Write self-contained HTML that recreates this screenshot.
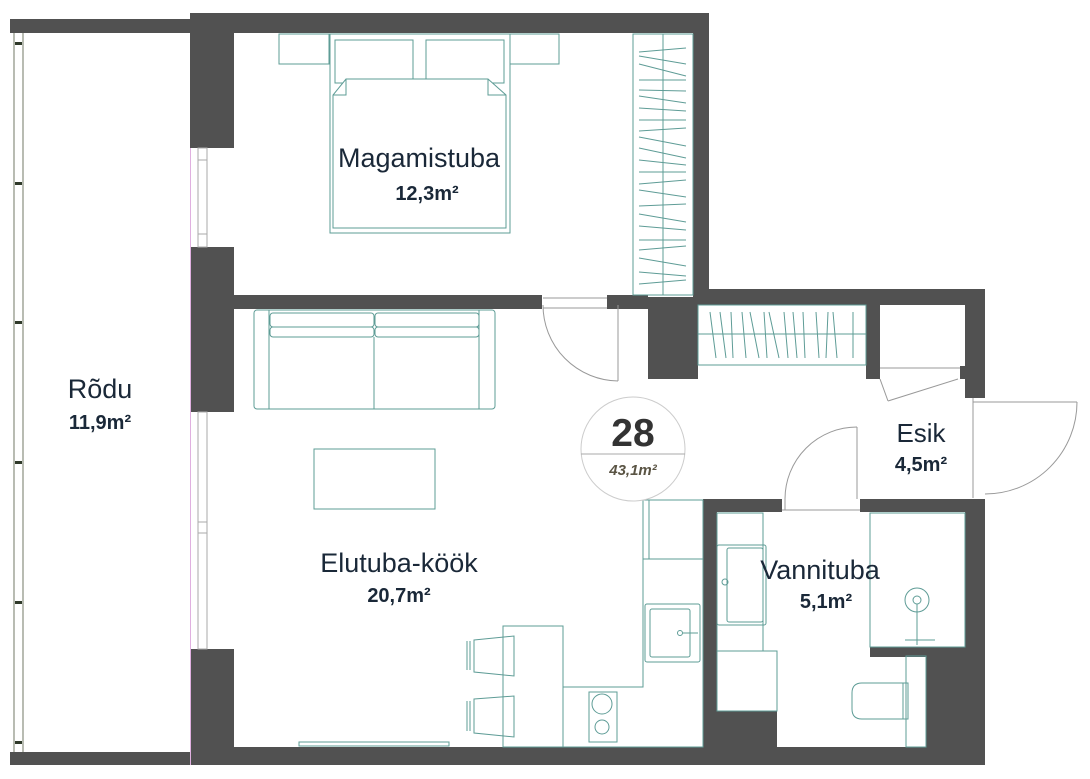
<!DOCTYPE html>
<html><head><meta charset="utf-8"><style>
html,body{margin:0;padding:0;background:#fff}
svg{display:block}
.t{font-family:"Liberation Sans","DejaVu Sans",sans-serif;fill:#1a2838}
</style></head><body>
<svg width="1090" height="779" viewBox="0 0 1090 779" xmlns="http://www.w3.org/2000/svg">
<g fill="#515151">
<rect x="10" y="19" width="180" height="14"/>
<rect x="10" y="752" width="180" height="13"/>
<rect x="190" y="13" width="44" height="135"/>
<rect x="190" y="247" width="44" height="165"/>
<rect x="190" y="649" width="44" height="116"/>
<rect x="190" y="13" width="519" height="20"/>
<rect x="693" y="13" width="16" height="292"/>
<rect x="234" y="295" width="308" height="14"/>
<rect x="607" y="295" width="41" height="14"/>
<rect x="648" y="297" width="50" height="82"/>
<rect x="693" y="289" width="292" height="16"/>
<rect x="965" y="289" width="20" height="109"/>
<rect x="866" y="305" width="14" height="74"/>
<rect x="960" y="366" width="5" height="13"/>
<rect x="703" y="499" width="79" height="13"/>
<rect x="860" y="499" width="125" height="13"/>
<rect x="703" y="499" width="14" height="266"/>
<rect x="965" y="499" width="20" height="266"/>
<rect x="717" y="711" width="60" height="36"/>
<rect x="870" y="647" width="95" height="10"/>
<rect x="926" y="657" width="40" height="90"/>
<rect x="190" y="747" width="795" height="18"/>
</g>
<g stroke="#8a8f80" stroke-width="1.2">
<line x1="14" y1="33" x2="14" y2="752"/><line x1="23" y1="33" x2="23" y2="752"/>
</g>
<g fill="#2f3a2a"><rect x="15" y="42" width="7" height="3"/><rect x="15" y="182" width="7" height="3"/><rect x="15" y="321" width="7" height="3"/><rect x="15" y="461" width="7" height="3"/><rect x="15" y="601" width="7" height="3"/><rect x="15" y="741" width="7" height="3"/></g>
<g stroke="#aaa" stroke-width="1" fill="none">
<rect x="198" y="148" width="9" height="99"/><line x1="198" y1="160" x2="207" y2="160"/><line x1="198" y1="234" x2="207" y2="234"/>
<rect x="198" y="412" width="9" height="237"/><line x1="198" y1="522" x2="207" y2="522"/><line x1="198" y1="533" x2="207" y2="533"/>
</g>
<line x1="190.5" y1="148" x2="190.5" y2="765" stroke="#e0b0e0" stroke-width="1"/>
<g stroke="#999" stroke-width="1" fill="none">
<path d="M543 305 A76 76 0 0 0 618 381"/><line x1="618" y1="305" x2="618" y2="381"/><line x1="543" y1="298" x2="607" y2="298"/><line x1="543" y1="308" x2="607" y2="308"/>
<path d="M857 427 A72 72 0 0 0 785 499"/><line x1="857" y1="427" x2="857" y2="499"/><line x1="782" y1="510" x2="860" y2="510"/><line x1="785" y1="499" x2="785" y2="510"/>
<path d="M1077 402 A92 92 0 0 1 985 494"/><line x1="973" y1="402" x2="1077" y2="402"/><line x1="973" y1="398" x2="973" y2="498"/>
<line x1="880" y1="368" x2="960" y2="368"/><line x1="880" y1="379" x2="888" y2="401"/><line x1="888" y1="401" x2="958" y2="379"/>
</g>
<g stroke="#5e9c96" stroke-width="1" fill="none">
<rect x="279" y="34" width="50" height="30"/><rect x="510" y="34" width="49" height="30"/>
<rect x="330" y="34" width="180" height="199"/>
<rect x="335" y="40" width="78" height="43"/><rect x="426" y="40" width="78" height="43"/>
<path d="M333 228 V95 L346 79 H488 L506 95 V228 Z" fill="#fff"/>
<path d="M333 95 H346 V79 M506 95 H488 V79"/>
<rect x="633" y="34" width="60" height="261"/><line x1="663" y1="34" x2="663" y2="295"/>
<path d="M639 52 L686 48 M639 56 L686 64 M639 64 L686 76 M639 80 L686 80 M639 90 L686 91 M639 96 L686 103 M639 108 L686 111 M639 120 L686 120 M639 131 L686 128 M639 137 L686 146 M639 148 L686 158 M639 160 L686 165 M639 172 L686 172 M639 184 L686 180 M639 190 L686 197 M639 206 L686 204 M639 214 L686 222 M639 226 L686 230 M639 240 L686 240 M639 250 L686 246 M639 258 L686 266 M639 272 L686 276 M639 284 L686 280"/>
<rect x="698" y="305" width="168" height="60"/><line x1="698" y1="334" x2="866" y2="334"/>
<path d="M710 312 L716 358 M720 312 L726 358 M731 312 L733 358 M742 312 L746 358 M750 312 L759 358 M764 312 L767 358 M769 312 L779 358 M784 312 L788 358 M793 312 L797 358 M803 312 L805 358 M816 312 L819 358 M828 312 L826 358 M833 312 L837 358 M853 312 L853 358"/>
<rect x="254" y="310" width="241" height="99" rx="3"/>
<line x1="269" y1="310" x2="269" y2="409"/><line x1="479" y1="310" x2="479" y2="409"/>
<rect x="270" y="313" width="104" height="14" rx="3"/><rect x="375" y="313" width="104" height="14" rx="3"/>
<rect x="270" y="327" width="104" height="10" rx="3"/><rect x="375" y="327" width="104" height="10" rx="3"/>
<line x1="374" y1="337" x2="374" y2="409"/>
<rect x="314" y="449" width="121" height="60"/>
<rect x="299" y="742" width="150" height="4"/>
<path d="M643 500 H703 V747 H563 V687 H643 Z"/><line x1="649" y1="500" x2="649" y2="559"/><line x1="643" y1="559" x2="703" y2="559"/>
<rect x="645" y="604" width="55" height="58" rx="2"/><rect x="650" y="609" width="40" height="48" rx="2"/>
<circle cx="680" cy="633" r="2.5"/><line x1="683" y1="633" x2="698" y2="633"/>
<rect x="589" y="692" width="28" height="50"/><circle cx="602" cy="704" r="10"/><circle cx="602" cy="727" r="7"/>
<rect x="503" y="626" width="60" height="121"/>
<path d="M474 640 L514 636 L514 676 L474 672 Z M474 699 L514 696 L514 737 L474 733 Z"/>
<path d="M467 641 V670 M470 641 V670 M467 701 V731 M470 701 V731"/>
<rect x="717" y="513" width="46" height="138"/>
<rect x="717" y="545" width="49" height="80" rx="2"/><rect x="727" y="548" width="36" height="74" rx="2"/>
<circle cx="725" cy="582" r="3"/>
<rect x="717" y="651" width="60" height="60"/>
<rect x="870" y="513" width="95" height="134"/>
<circle cx="917" cy="600" r="12"/><circle cx="917" cy="600" r="4"/><line x1="917" y1="604" x2="917" y2="645"/>
<line x1="905" y1="640" x2="935" y2="640"/>
<rect x="906" y="656" width="20" height="91"/><rect x="903" y="683" width="5" height="36"/>
<path d="M903 683 H862 Q852 683 852 693 V709 Q852 719 862 719 H903"/>
</g>
<circle cx="633" cy="449" r="52" fill="#fff" stroke="#ccc" stroke-width="1"/>
<line x1="581" y1="454" x2="685" y2="454" stroke="#aaa" stroke-width="1"/>
<text x="633" y="446" text-anchor="middle" class="t" style="font-size:39px;font-weight:bold;fill:#333">28</text>
<text x="633" y="475" text-anchor="middle" class="t" style="font-size:15px;font-weight:bold;font-style:italic;fill:#5a5444">43,1m²</text>
<g class="t" text-anchor="middle">
<text x="419" y="167" font-size="27">Magamistuba</text>
<text x="427" y="200" font-size="20" font-weight="bold">12,3m²</text>
<text x="100" y="398" font-size="27">Rõdu</text>
<text x="100" y="429" font-size="20" font-weight="bold">11,9m²</text>
<text x="399" y="572" font-size="27">Elutuba-köök</text>
<text x="399" y="602" font-size="20" font-weight="bold">20,7m²</text>
<text x="921" y="442" font-size="26">Esik</text>
<text x="921" y="471" font-size="20" font-weight="bold">4,5m²</text>
<text x="820" y="579" font-size="27">Vannituba</text>
<text x="826" y="608" font-size="20" font-weight="bold">5,1m²</text>
</g>
</svg>
</body></html>
